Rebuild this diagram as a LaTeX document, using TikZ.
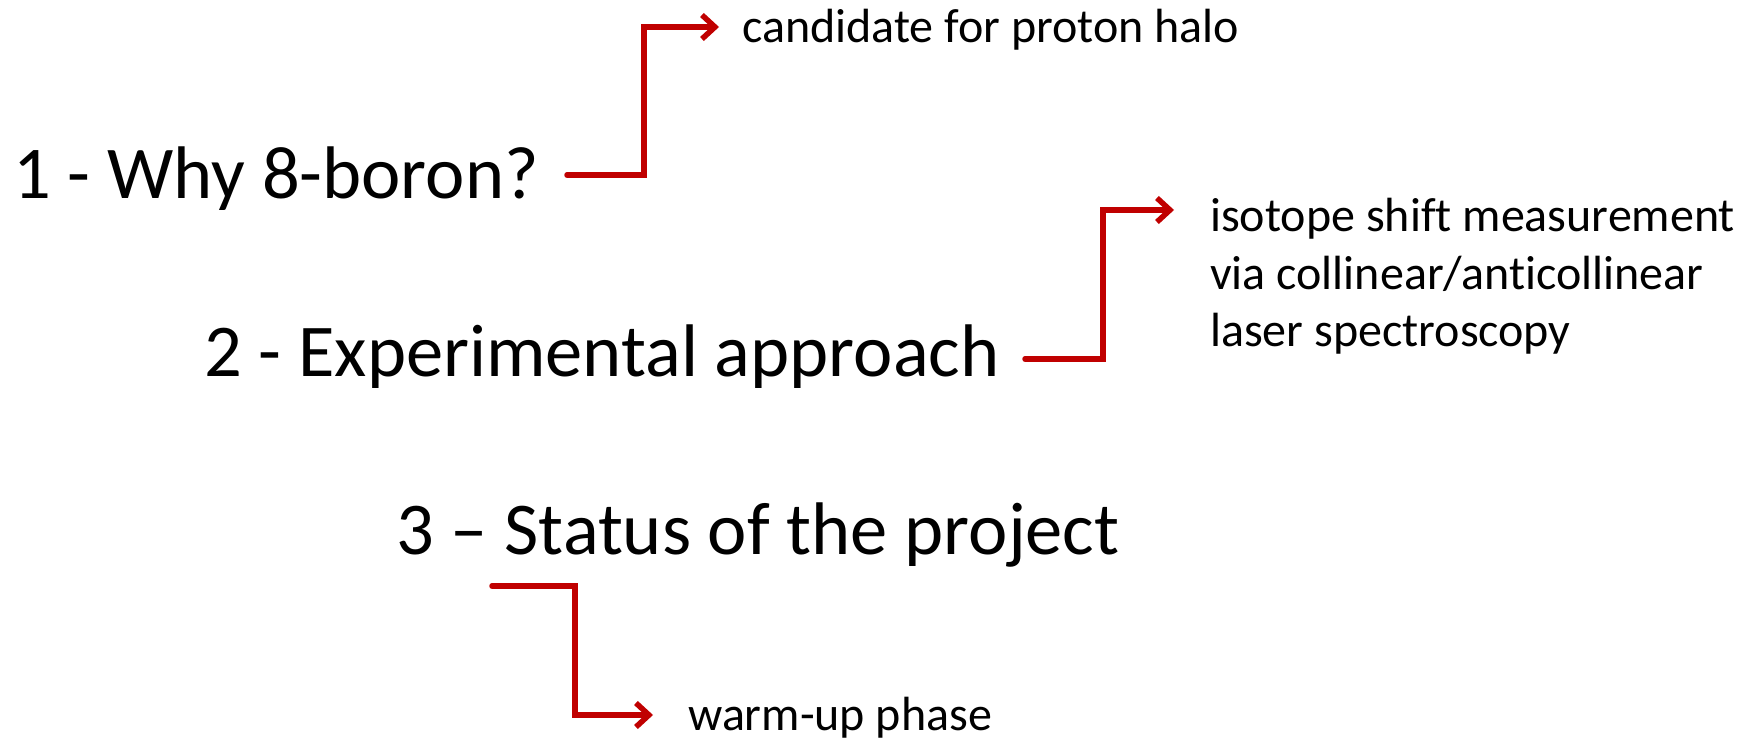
\documentclass[tikz,border=0pt]{standalone}
\usepackage{fontspec}
\setmainfont{Carlito}[Ligatures=CommonOff]
\usetikzlibrary{arrows.meta}
\definecolor{arrred}{HTML}{C00000}
\begin{document}
\begin{tikzpicture}[x=1pt,y=1pt,
  title/.style={anchor=base west,inner sep=0pt,font=\fontsize{74.5}{88}\selectfont},
  sub/.style={anchor=base west,inner sep=0pt,font=\fontsize{48}{57.5}\selectfont,align=left},
  arr/.style={arrred,line width=5.5pt,line cap=round,line join=miter,-{Straight Barb[length=13pt,width=24pt]}}]
\useasboundingbox (0,0) rectangle (1750,739);
\node[title] (t1) at (13,540) {1 - Why 8-boron?};
\node[title] (t2) at (204,362) {2 - Experimental approach};
\node[title] (t3) at (396,184) {3 – Status of the project};
\node[sub] (c1) at (742,696) {candidate for proton halo};
\node[sub] (c2) at (1210,392) {isotope shift measurement\\via collinear/anticollinear\\laser spectroscopy};
\node[sub] (c3) at (688,9) {warm-up phase};
\coordinate (s1) at (567,564);
\coordinate (s2) at (1025,380);
\coordinate (s3) at (492,153);
\draw[arr] (s1) -| (644,712) -- (719,712);
\draw[arr] (s2) -| (1103,529) -- (1174,529);
\draw[arr] (s3) -| (575,24) -- (653,24);
\end{tikzpicture}
\end{document}
